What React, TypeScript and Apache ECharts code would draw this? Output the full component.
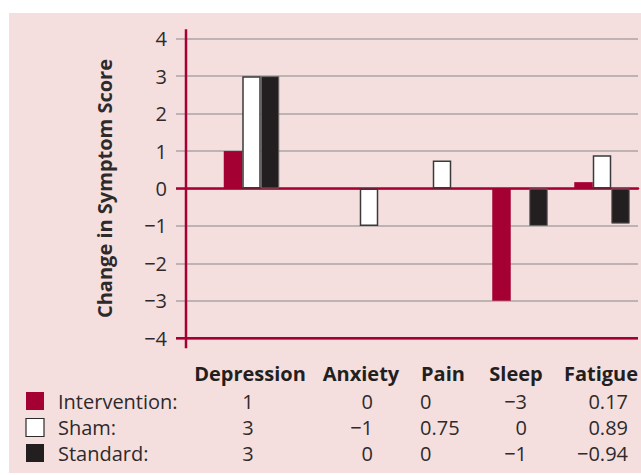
import React, { useEffect, useRef } from "react";
import * as echarts from "echarts";

const categories = ["Depression", "Anxiety", "Pain", "Sleep", "Fatigue"];
const seriesNames = ["Intervention:", "Sham:", "Standard:"];
const intervention = [1, 0, 0, -3, 0.17];
const sham = [3, -1, 0.75, 0, 0.89];
const standard = [3, 0, 0, -1, -0.94];
const yMin = -4;
const yMax = 4;

// layout (x-axis units == pixels across the plot)
const catPos = [65.5, 183, 256, 334, 416];
const barOffset = 18.5;

const RED = "#a50034";
const PINK = "#f5dfde";
const GRID = "#aaa4a4";
const TEXT = "#2e2a2b";
const FONT = '"Open Sans", "DejaVu Sans", sans-serif';

const fmt = (v: number) => (v < 0 ? "\u2212" + Math.abs(v) : String(v));

export default function App() {
  const ref = useRef<HTMLDivElement>(null);
  useEffect(() => {
    const chart = echarts.init(ref.current!, null, { renderer: "svg" });
    const mk = (vals: number[], off: number) =>
      vals
        .map((v, i) => [catPos[i] + off, v])
        .filter((d) => d[1] !== 0);
    chart.setOption({
      animation: false,
      backgroundColor: "#ffffff",
      grid: { left: 186, top: 38.7, right: 3, bottom: 136.7 },
      xAxis: {
        type: "value",
        min: 0,
        max: 452,
        axisLine: { show: true, onZero: true, lineStyle: { color: RED, width: 2.5 } },
        axisTick: { show: false },
        axisLabel: { show: false },
        splitLine: { show: false },
      },
      yAxis: {
        type: "value",
        min: yMin,
        max: yMax,
        interval: 1,
        axisLine: { show: false },
        axisTick: { show: true, length: 10, lineStyle: { color: GRID, width: 1.5 } },
        axisLabel: {
          margin: 19,
          fontSize: 20,
          fontFamily: FONT,
          color: TEXT,
          formatter: (v: number) => fmt(v),
        },
        splitLine: { show: true, lineStyle: { color: GRID, width: 1.5 } },
        name: "Change in Symptom Score",
        nameLocation: "middle",
        nameGap: 72,
        nameTextStyle: { fontSize: 20, fontWeight: "bold", fontFamily: FONT, color: TEXT },
      },
      series: [
        {
          name: "Intervention",
          type: "bar",
          barWidth: 18.5,
          barGap: "-100%",
          data: mk(intervention, -barOffset),
          itemStyle: { color: RED },
          z: 3,
        },
        {
          name: "Sham",
          type: "bar",
          barWidth: 18.5,
          barGap: "-100%",
          data: mk(sham, 0),
          itemStyle: { color: "#ffffff", borderColor: "#3a3a3a", borderWidth: 1.5 },
          z: 3,
        },
        {
          name: "Standard",
          type: "bar",
          barWidth: 18.5,
          barGap: "-100%",
          data: mk(standard, barOffset),
          itemStyle: { color: "#231f20", borderColor: "#6a6666", borderWidth: 1 },
          z: 3,
        },
      ],
    });

    const p = (x: number, y: number) =>
      chart.convertToPixel({ gridIndex: 0 }, [x, y]) as number[];
    const [gx0, yTop] = p(0, yMax);
    const [gx1, yBot] = p(452, yMin);
    const y0 = p(0, 0)[1];

    const headerY = 373;
    const rowY = [401, 427.5, 453];
    const headerX = [250, 361, 443, 516, 601];
    const valAnchor = [
      { x: 248, align: "center" },
      { x: 373, align: "right" },
      { x: 420, align: "left" },
      { x: 527, align: "right" },
      { x: 628, align: "right" },
    ];
    const rows = [intervention, sham, standard];
    const swatch = [
      { fill: RED, stroke: RED, lw: 0 },
      { fill: "#ffffff", stroke: "#2a2a2a", lw: 1.2 },
      { fill: "#231f20", stroke: "#231f20", lw: 0 },
    ];

    const graphics: any[] = [
      {
        type: "rect",
        z: -100,
        silent: true,
        shape: { x: 9, y: 13, width: 632, height: 460 },
        style: { fill: PINK },
      },
      {
        type: "line",
        z: 100,
        shape: { x1: gx0, y1: yTop - 9.5, x2: gx0, y2: yBot + 10 },
        style: { stroke: RED, lineWidth: 2.5 },
      },
      {
        type: "line",
        z: 100,
        shape: { x1: gx0 - 10, y1: y0, x2: gx0, y2: y0 },
        style: { stroke: RED, lineWidth: 2.5 },
      },
      {
        type: "line",
        z: 100,
        shape: { x1: gx0 - 10, y1: yBot, x2: gx1, y2: yBot },
        style: { stroke: RED, lineWidth: 2.5 },
      },
    ];
    categories.forEach((c, i) => {
      graphics.push({
        type: "text",
        z: 100,
        style: {
          text: c,
          x: headerX[i],
          y: headerY,
          textAlign: "center",
          textVerticalAlign: "middle",
          font: `bold 20px ${FONT}`,
          fill: "#231f20",
        },
      });
    });
    rows.forEach((vals, r) => {
      graphics.push({
        type: "rect",
        z: 100,
        shape: { x: 26, y: rowY[r] - 9, width: 18, height: 18 },
        style: { fill: swatch[r].fill, stroke: swatch[r].stroke, lineWidth: swatch[r].lw },
      });
      graphics.push({
        type: "text",
        z: 100,
        style: {
          text: seriesNames[r],
          x: 58,
          y: rowY[r],
          textAlign: "left",
          textVerticalAlign: "middle",
          font: `20px ${FONT}`,
          fill: TEXT,
        },
      });
      vals.forEach((v, i) => {
        graphics.push({
          type: "text",
          z: 100,
          style: {
            text: fmt(v),
            x: valAnchor[i].x,
            y: rowY[r],
            textAlign: valAnchor[i].align,
            textVerticalAlign: "middle",
            font: `20px ${FONT}`,
            fill: TEXT,
          },
        });
      });
    });
    chart.setOption({ graphic: graphics });

    return () => chart.dispose();
  }, []);
  return (
    <div
      ref={ref}
      style={{ position: "absolute", left: 0, top: 0, width: 641, height: 475 }}
    />
  );
}
